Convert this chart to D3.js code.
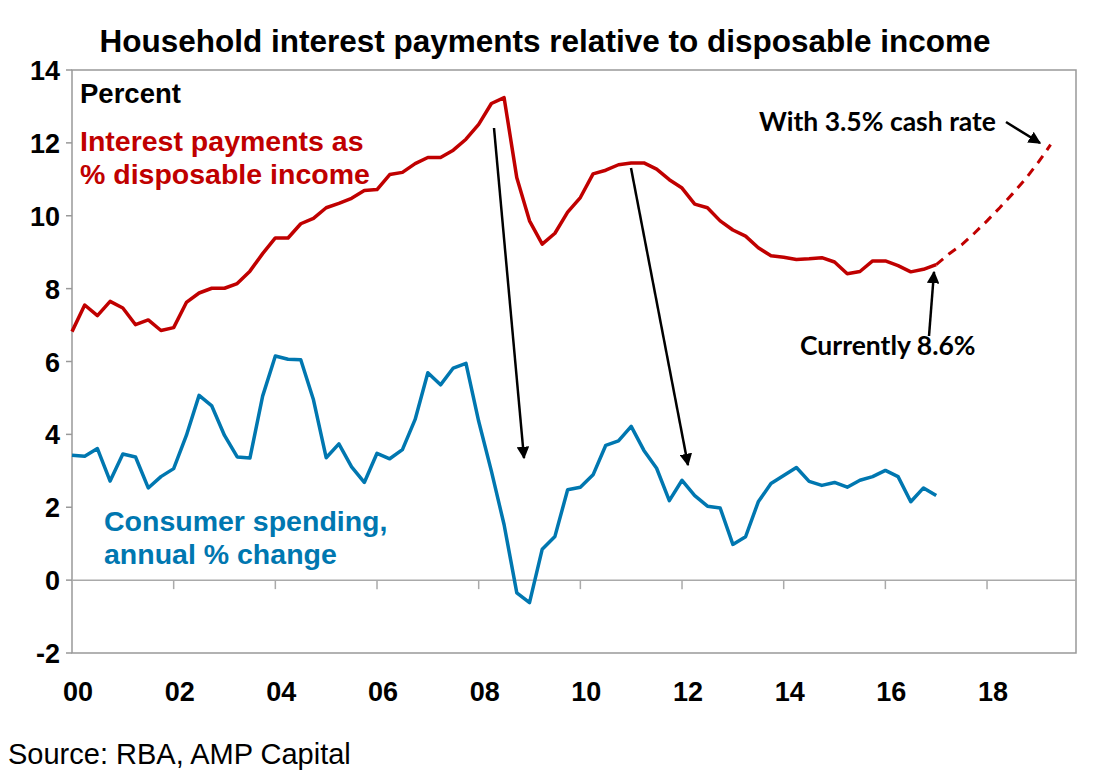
<!DOCTYPE html>
<html><head><meta charset="utf-8">
<script src="https://cdn.jsdelivr.net/npm/d3@7"></script>
<style>body{margin:0;background:#fff}</style></head>
<body><svg id="c" width="1093" height="781"></svg>
<script>
const interest = [6.82,7.55,7.26,7.65,7.47,7.01,7.14,6.85,6.93,7.62,7.88,8.01,8.01,8.14,8.48,8.96,9.39,9.39,9.78,9.93,10.22,10.34,10.48,10.69,10.72,11.13,11.19,11.43,11.6,11.6,11.8,12.1,12.51,13.08,13.24,
11.04,9.86,9.22,9.52,10.1,10.5,11.15,11.25,11.4,11.45,11.45,11.28,10.99,10.76,10.32,10.22,9.86,9.61,9.44,9.12,8.9,8.86,8.8,8.82,8.85,8.73,8.41,8.47,8.76,8.76,8.63,8.46,8.53,8.66];
const projection = [8.66,8.95,9.2,9.52,9.86,10.22,10.6,11.0,11.45,11.95];
const spending = [3.43,3.4,3.61,2.72,3.46,3.38,2.53,2.84,3.06,3.97,5.07,4.78,3.97,3.38,3.35,5.05,6.15,6.06,6.05,4.95,3.36,3.74,3.11,2.68,3.48,3.33,3.58,4.41,5.69,5.36,5.82,5.95,4.36,2.99,1.52,
-0.35,-0.62,0.85,1.2,2.48,2.55,2.89,3.7,3.82,4.22,3.56,3.07,2.18,2.74,2.32,2.03,1.98,0.98,1.19,2.15,2.65,2.87,3.09,2.71,2.6,2.68,2.55,2.74,2.84,3.01,2.84,2.15,2.53,2.32];
const yearTicks = [2000,2002,2004,2006,2008,2010,2012,2014,2016,2018];
const yearLabels = ["00","02","04","06","08","10","12","14","16","18"];
const yTicks = [-2,0,2,4,6,8,10,12,14];
const startYear = 2000, projStart = 2017;

const svg = d3.select("#c");
const L=72,R=1076,T=70,B=653;
const x = d3.scaleLinear().domain([2000,2019.75]).range([L,R]);
const y = d3.scaleLinear().domain([-2,14]).range([B,T]);
const q = i => startYear + i/4;
const F = "Liberation Sans, Arial, sans-serif";
const FC = "Lato, 'Open Sans', sans-serif";

svg.append("rect").attr("x",L).attr("y",T).attr("width",R-L).attr("height",B-T)
  .attr("fill","none").attr("stroke","#999").attr("stroke-width",1.5);
svg.append("line").attr("x1",L).attr("x2",R).attr("y1",y(0)).attr("y2",y(0)).attr("stroke","#aaa").attr("stroke-width",1.5);
svg.selectAll(".xt").data(yearTicks.slice(1)).join("line")
  .attr("x1",d=>x(d)).attr("x2",d=>x(d)).attr("y1",y(0)).attr("y2",y(0)+9).attr("stroke","#aaa").attr("stroke-width",1.5);
svg.selectAll(".yt").data(yTicks).join("line")
  .attr("x1",L-6).attr("x2",L).attr("y1",d=>y(d)).attr("y2",d=>y(d)).attr("stroke","#999").attr("stroke-width",1.5);
svg.selectAll(".yl").data(yTicks).join("text")
  .attr("x",L-12).attr("y",d=>y(d)+10).attr("text-anchor","end")
  .attr("font-family",F).attr("font-weight","bold").attr("font-size",27).text(d=>d);
svg.selectAll(".xl").data(yearTicks).join("text")
  .attr("x",(d)=>x(d)+6).attr("y",701).attr("text-anchor","middle")
  .attr("font-family",F).attr("font-weight","bold").attr("font-size",27).text((d,i)=>yearLabels[i]);

const line = d3.line().x(d=>x(d[0])).y(d=>y(d[1]));
svg.append("path").attr("d",line(spending.map((v,i)=>[q(i),v]))).attr("fill","none").attr("stroke","#0077B0").attr("stroke-width",3.5).attr("stroke-linejoin","round");
svg.append("path").attr("d",line(interest.map((v,i)=>[q(i),v]))).attr("fill","none").attr("stroke","#C00000").attr("stroke-width",3.5).attr("stroke-linejoin","round");
svg.append("path").attr("d",line(projection.map((v,i)=>[projStart+i/4,v]))).attr("fill","none").attr("stroke","#C00000").attr("stroke-width",3).attr("stroke-dasharray","9,7");

const defs = svg.append("defs");
defs.append("marker").attr("id","ah").attr("viewBox","0 0 10 10").attr("refX",9).attr("refY",5)
  .attr("markerWidth",5).attr("markerHeight",5).attr("orient","auto")
  .append("path").attr("d","M0,0L10,5L0,10z").attr("fill","#000");
const arrows=[[494,128,524,458],[631,168,688,465],[929,336,934,272],[1006,122,1040,143]];
svg.selectAll(".ar").data(arrows).join("line")
  .attr("x1",d=>d[0]).attr("y1",d=>d[1]).attr("x2",d=>d[2]).attr("y2",d=>d[3])
  .attr("stroke","#000").attr("stroke-width",2.5).attr("marker-end","url(#ah)");

const txt=(t,xx,yy,opt)=>svg.append("text").attr("x",xx).attr("y",yy).attr("font-family",opt.f||F)
  .attr("font-weight",opt.w||"bold").attr("font-size",opt.s).attr("fill",opt.c||"#000")
  .attr("text-anchor",opt.a||"start").text(t);
txt("Household interest payments relative to disposable income",545,52,{s:31.5,a:"middle"});
txt("Percent",80,103,{s:27.5});
txt("Interest payments as",80,151,{s:28.5,c:"#C00000"});
txt("% disposable income",80,184,{s:28.5,c:"#C00000"});
txt("Consumer spending,",104,531,{s:28.5,c:"#0077B0"});
txt("annual % change",104,564,{s:28.5,c:"#0077B0"});
txt("With 3.5% cash rate",759,131,{s:26.5,f:FC});
txt("Currently 8.6%",800,355,{s:26.5,f:FC});
txt("Source: RBA, AMP Capital",8,764,{s:29,w:"normal"});
</script></body></html>
